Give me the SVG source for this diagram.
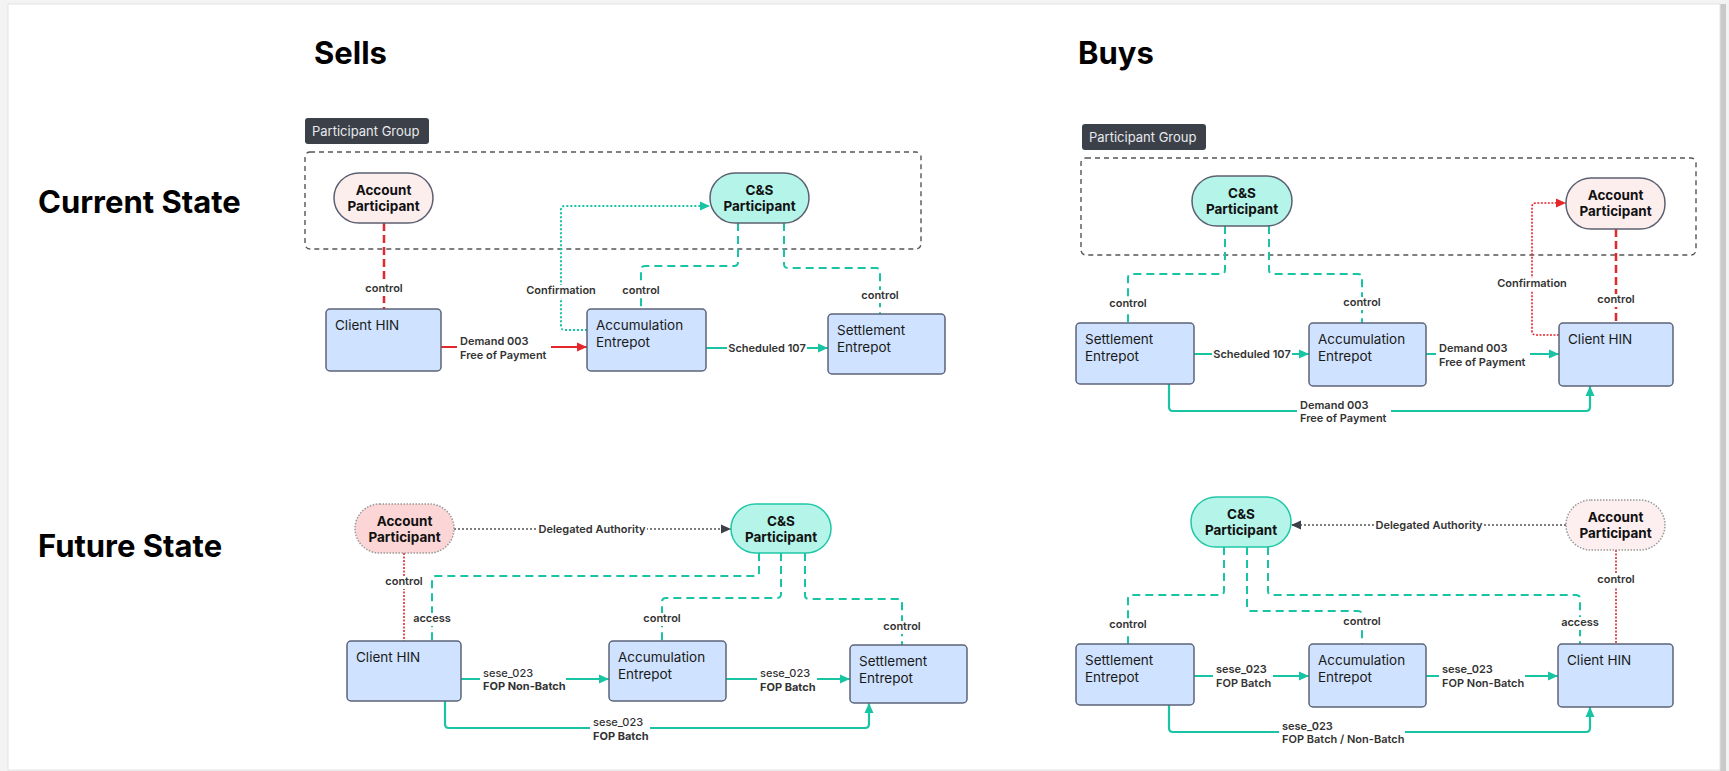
<svg xmlns="http://www.w3.org/2000/svg" width="1729" height="771" viewBox="0 0 1729 771">
<defs>
<style>
.title{font-family:Inter,"Liberation Sans",sans-serif;font-weight:700;font-size:31px;fill:#000}
.pg{fill:#3b4049}
.pgt{font-family:Inter,"Liberation Sans",sans-serif;font-size:13px;fill:#e8e9ec}
.grp{fill:none;stroke:#555;stroke-width:1.4;stroke-dasharray:5 4}
.box{fill:#cfe2ff;stroke:#5c6478;stroke-width:1.5}
.bt{font-family:Inter,"Liberation Sans",sans-serif;font-size:13.5px;fill:#1a1a1a}
.nt{font-family:Inter,"Liberation Sans",sans-serif;font-size:13.5px;font-weight:700;fill:#111;text-anchor:middle}
.ap{fill:#fdeeee;stroke:#5c6070;stroke-width:1.5}
.apd{fill:#fcd6d6;stroke:#999;stroke-width:1.5;stroke-dasharray:1.5 1.5}
.apd2{fill:#fdefef;stroke:#999;stroke-width:1.5;stroke-dasharray:1.5 1.5}
.cs{fill:#b4f4e9;stroke:#5c6070;stroke-width:1.5}
.cst{fill:#b4f4e9;stroke:#1fc7a6;stroke-width:1.5}
.tl{fill:none;stroke:#19c4a4;stroke-width:2.2}
.td{fill:none;stroke:#19c4a4;stroke-width:2;stroke-dasharray:8 5}
.tdot{fill:none;stroke:#19c4a4;stroke-width:2;stroke-dasharray:2 2}
.rl{fill:none;stroke:#e5262b;stroke-width:2.2}
.rd{fill:none;stroke:#e5262b;stroke-width:2.5;stroke-dasharray:8 4}
.rdot{fill:none;stroke:#e5262b;stroke-width:1.6;stroke-dasharray:2 1.5}
.gdot{fill:none;stroke:#555;stroke-width:1.6;stroke-dasharray:2 2}
.lb{fill:#fff}
.l{font-family:Inter,"Liberation Sans",sans-serif;font-size:11px;font-weight:600;fill:#333}
.c{text-anchor:middle}
.b{font-weight:700}
.m{font-weight:500}
</style>
<marker id="at" viewBox="0 0 10 10" refX="10" refY="5" markerWidth="10" markerHeight="10" markerUnits="userSpaceOnUse" orient="auto"><path d="M0,0.5 L10,5 L0,9.5 z" fill="#19c4a4"/></marker>
<marker id="ar" viewBox="0 0 10 10" refX="10" refY="5" markerWidth="10" markerHeight="10" markerUnits="userSpaceOnUse" orient="auto"><path d="M0,0.5 L10,5 L0,9.5 z" fill="#e5262b"/></marker>
<marker id="ag" viewBox="0 0 10 10" refX="10" refY="5" markerWidth="10" markerHeight="10" markerUnits="userSpaceOnUse" orient="auto"><path d="M0,0.5 L10,5 L0,9.5 z" fill="#3b4049"/></marker>
</defs>

<rect x="0" y="0" width="1729" height="771" fill="#f3f3f3"/>
<rect x="1720" y="4" width="6" height="767" fill="#c9c9c9"/>
<rect x="8" y="4" width="1712" height="766" fill="#fff" stroke="#e4e4e4" stroke-width="1"/>

<g id="headings">
<text class="title" x="314" y="64">Sells</text>
<text class="title" x="1078" y="64">Buys</text>
<text class="title" x="38" y="213">Current State</text>
<text class="title" x="38" y="557">Future State</text>
</g>

<g id="groups">
<rect class="pg" x="305" y="118" width="124" height="26" rx="3"/>
<text class="pgt" x="312" y="136">Participant Group</text>
<rect class="grp" x="305" y="152" width="616" height="97" rx="5"/>
<rect class="pg" x="1082" y="124" width="124" height="26" rx="3"/>
<text class="pgt" x="1089" y="142">Participant Group</text>
<rect class="grp" x="1081" y="158" width="615" height="97" rx="5"/>
</g>

<g id="connectors">
<!-- Sells current -->
<path class="rd" d="M384,223 V309"/>
<path class="tdot" d="M587,330 H565 Q561,330 561,326 V210 Q561,206 565,206 H710" marker-end="url(#at)"/>
<path class="td" d="M738,223 V262 Q738,266 734,266 H645 Q641,266 641,270 V309"/>
<path class="td" d="M784,223 V264 Q784,268 788,268 H876 Q880,268 880,272 V314"/>
<path class="rl" d="M441,347 H587" marker-end="url(#ar)"/>
<path class="tl" d="M706,348 H828" marker-end="url(#at)"/>
<!-- Buys current -->
<path class="td" d="M1225,226 V270 Q1225,274 1221,274 H1132 Q1128,274 1128,278 V323"/>
<path class="td" d="M1269,226 V270 Q1269,274 1273,274 H1358 Q1362,274 1362,278 V323"/>
<path class="rd" d="M1616,229 V323"/>
<path class="rdot" d="M1559,335 H1536 Q1532,335 1532,331 V207 Q1532,203 1536,203 H1566" marker-end="url(#ar)"/>
<path class="tl" d="M1194,354 H1309" marker-end="url(#at)"/>
<path class="tl" d="M1426,354 H1559" marker-end="url(#at)"/>
<path class="tl" d="M1169,384 V407 Q1169,411 1173,411 H1586 Q1590,411 1590,407 V386" marker-end="url(#at)"/>
<!-- Sells future -->
<path class="gdot" d="M454,529 H731" marker-end="url(#ag)"/>
<path class="rdot" d="M404,553 V641"/>
<path class="td" d="M759,553 V572 Q759,576 755,576 H436 Q432,576 432,580 V641"/>
<path class="td" d="M781,553 V594 Q781,598 777,598 H666 Q662,598 662,602 V641"/>
<path class="td" d="M805,553 V595 Q805,599 809,599 H898 Q902,599 902,603 V645"/>
<path class="tl" d="M461,679 H609" marker-end="url(#at)"/>
<path class="tl" d="M726,679 H850" marker-end="url(#at)"/>
<path class="tl" d="M445,701 V724 Q445,728 449,728 H865 Q869,728 869,724 V703" marker-end="url(#at)"/>
<!-- Buys future -->
<path class="gdot" d="M1566,525 H1291" marker-end="url(#ag)"/>
<path class="td" d="M1224,547 V591 Q1224,595 1220,595 H1132 Q1128,595 1128,599 V644"/>
<path class="td" d="M1247,547 V607 Q1247,611 1251,611 H1358 Q1362,611 1362,615 V644"/>
<path class="td" d="M1268,547 V591 Q1268,595 1272,595 H1576 Q1580,595 1580,599 V644"/>
<path class="rdot" d="M1616,550 V644"/>
<path class="tl" d="M1194,676 H1309" marker-end="url(#at)"/>
<path class="tl" d="M1426,676 H1558" marker-end="url(#at)"/>
<path class="tl" d="M1169,705 V728 Q1169,732 1173,732 H1586 Q1590,732 1590,728 V707" marker-end="url(#at)"/>

<!-- labels -->
<rect class="lb" x="364" y="283" width="40" height="13"/><text class="l c" x="384" y="292">control</text>
<rect class="lb" x="526" y="285" width="70" height="13"/><text class="l c" x="561" y="294">Confirmation</text>
<rect class="lb" x="621" y="285" width="40" height="13"/><text class="l c" x="641" y="294">control</text>
<rect class="lb" x="860" y="290" width="40" height="13"/><text class="l c" x="880" y="299">control</text>
<rect class="lb" x="457" y="335" width="94" height="28"/><text class="l" x="460" y="345">Demand 003</text><text class="l" x="460" y="359">Free of Payment</text>
<rect class="lb" x="727" y="342" width="80" height="13"/><text class="l c" x="767" y="352">Scheduled 107</text>

<rect class="lb" x="1108" y="298" width="40" height="13"/><text class="l c" x="1128" y="307">control</text>
<rect class="lb" x="1342" y="297" width="40" height="13"/><text class="l c" x="1362" y="306">control</text>
<rect class="lb" x="1596" y="294" width="40" height="13"/><text class="l c" x="1616" y="303">control</text>
<rect class="lb" x="1497" y="278" width="70" height="13"/><text class="l c" x="1532" y="287">Confirmation</text>
<rect class="lb" x="1212" y="348" width="80" height="13"/><text class="l c" x="1252" y="358">Scheduled 107</text>
<rect class="lb" x="1436" y="342" width="94" height="28"/><text class="l" x="1439" y="352">Demand 003</text><text class="l" x="1439" y="366">Free of Payment</text>
<rect class="lb" x="1297" y="399" width="94" height="27"/><text class="l" x="1300" y="409">Demand 003</text><text class="l" x="1300" y="422">Free of Payment</text>

<rect class="lb" x="537" y="523" width="110" height="13"/><text class="l c" x="592" y="533">Delegated Authority</text>
<rect class="lb" x="384" y="576" width="40" height="13"/><text class="l c" x="404" y="585">control</text>
<rect class="lb" x="413" y="613" width="38" height="13"/><text class="l c" x="432" y="622">access</text>
<rect class="lb" x="642" y="613" width="40" height="13"/><text class="l c" x="662" y="622">control</text>
<rect class="lb" x="882" y="621" width="40" height="13"/><text class="l c" x="902" y="630">control</text>
<rect class="lb" x="480" y="666" width="86" height="28"/><text class="l m" x="483" y="677">sese_023</text><text class="l b" x="483" y="690">FOP Non-Batch</text>
<rect class="lb" x="757" y="666" width="60" height="28"/><text class="l m" x="760" y="677">sese_023</text><text class="l b" x="760" y="691">FOP Batch</text>
<rect class="lb" x="590" y="715" width="60" height="29"/><text class="l m" x="593" y="726">sese_023</text><text class="l b" x="593" y="740">FOP Batch</text>

<rect class="lb" x="1374" y="519" width="110" height="13"/><text class="l c" x="1429" y="529">Delegated Authority</text>
<rect class="lb" x="1108" y="619" width="40" height="13"/><text class="l c" x="1128" y="628">control</text>
<rect class="lb" x="1342" y="616" width="40" height="13"/><text class="l c" x="1362" y="625">control</text>
<rect class="lb" x="1561" y="617" width="38" height="13"/><text class="l c" x="1580" y="626">access</text>
<rect class="lb" x="1596" y="574" width="40" height="13"/><text class="l c" x="1616" y="583">control</text>
<rect class="lb" x="1213" y="662" width="60" height="28"/><text class="l" x="1216" y="673">sese_023</text><text class="l" x="1216" y="687">FOP Batch</text>
<rect class="lb" x="1439" y="662" width="86" height="28"/><text class="l" x="1442" y="673">sese_023</text><text class="l" x="1442" y="687">FOP Non-Batch</text>
<rect class="lb" x="1279" y="720" width="126" height="27"/><text class="l" x="1282" y="730">sese_023</text><text class="l" x="1282" y="743">FOP Batch / Non-Batch</text>
</g>

<!-- Sells current nodes -->
<g id="s-cur-account"><rect class="ap" x="334" y="173" width="99" height="50" rx="25"/><text class="nt" x="383.5" y="195">Account</text><text class="nt" x="383.5" y="211">Participant</text></g>
<g id="s-cur-cs"><rect class="cs" x="710" y="173" width="99" height="50" rx="25"/><text class="nt" x="759.5" y="195">C&amp;S</text><text class="nt" x="759.5" y="211">Participant</text></g>
<g id="s-cur-client"><rect class="box" x="326" y="309" width="115" height="62" rx="4"/><text class="bt" x="335" y="330">Client HIN</text></g>
<g id="s-cur-accum"><rect class="box" x="587" y="309" width="119" height="62" rx="4"/><text class="bt" x="596" y="330">Accumulation</text><text class="bt" x="596" y="347">Entrepot</text></g>
<g id="s-cur-settle"><rect class="box" x="828" y="314" width="117" height="60" rx="4"/><text class="bt" x="837" y="335">Settlement</text><text class="bt" x="837" y="352">Entrepot</text></g>

<!-- Buys current nodes -->
<g id="b-cur-cs"><rect class="cs" x="1192" y="176" width="100" height="50" rx="25"/><text class="nt" x="1242" y="198">C&amp;S</text><text class="nt" x="1242" y="214">Participant</text></g>
<g id="b-cur-account"><rect class="ap" x="1566" y="178" width="99" height="51" rx="25"/><text class="nt" x="1615.5" y="200">Account</text><text class="nt" x="1615.5" y="216">Participant</text></g>
<g id="b-cur-settle"><rect class="box" x="1076" y="323" width="118" height="61" rx="4"/><text class="bt" x="1085" y="344">Settlement</text><text class="bt" x="1085" y="361">Entrepot</text></g>
<g id="b-cur-accum"><rect class="box" x="1309" y="323" width="117" height="63" rx="4"/><text class="bt" x="1318" y="344">Accumulation</text><text class="bt" x="1318" y="361">Entrepot</text></g>
<g id="b-cur-client"><rect class="box" x="1559" y="323" width="114" height="63" rx="4"/><text class="bt" x="1568" y="344">Client HIN</text></g>

<!-- Sells future nodes -->
<g id="s-fut-account"><rect class="apd" x="355" y="504" width="99" height="49" rx="24.5"/><text class="nt" x="404.5" y="526">Account</text><text class="nt" x="404.5" y="542">Participant</text></g>
<g id="s-fut-cs"><rect class="cst" x="731" y="504" width="100" height="49" rx="24.5"/><text class="nt" x="781" y="526">C&amp;S</text><text class="nt" x="781" y="542">Participant</text></g>
<g id="s-fut-client"><rect class="box" x="347" y="641" width="114" height="60" rx="4"/><text class="bt" x="356" y="662">Client HIN</text></g>
<g id="s-fut-accum"><rect class="box" x="609" y="641" width="117" height="60" rx="4"/><text class="bt" x="618" y="662">Accumulation</text><text class="bt" x="618" y="679">Entrepot</text></g>
<g id="s-fut-settle"><rect class="box" x="850" y="645" width="117" height="58" rx="4"/><text class="bt" x="859" y="666">Settlement</text><text class="bt" x="859" y="683">Entrepot</text></g>

<!-- Buys future nodes -->
<g id="b-fut-cs"><rect class="cst" x="1191" y="497" width="100" height="50" rx="25"/><text class="nt" x="1241" y="519">C&amp;S</text><text class="nt" x="1241" y="535">Participant</text></g>
<g id="b-fut-account"><rect class="apd2" x="1566" y="500" width="99" height="50" rx="25"/><text class="nt" x="1615.5" y="522">Account</text><text class="nt" x="1615.5" y="538">Participant</text></g>
<g id="b-fut-settle"><rect class="box" x="1076" y="644" width="118" height="61" rx="4"/><text class="bt" x="1085" y="665">Settlement</text><text class="bt" x="1085" y="682">Entrepot</text></g>
<g id="b-fut-accum"><rect class="box" x="1309" y="644" width="117" height="63" rx="4"/><text class="bt" x="1318" y="665">Accumulation</text><text class="bt" x="1318" y="682">Entrepot</text></g>
<g id="b-fut-client"><rect class="box" x="1558" y="644" width="115" height="63" rx="4"/><text class="bt" x="1567" y="665">Client HIN</text></g>
</svg>
